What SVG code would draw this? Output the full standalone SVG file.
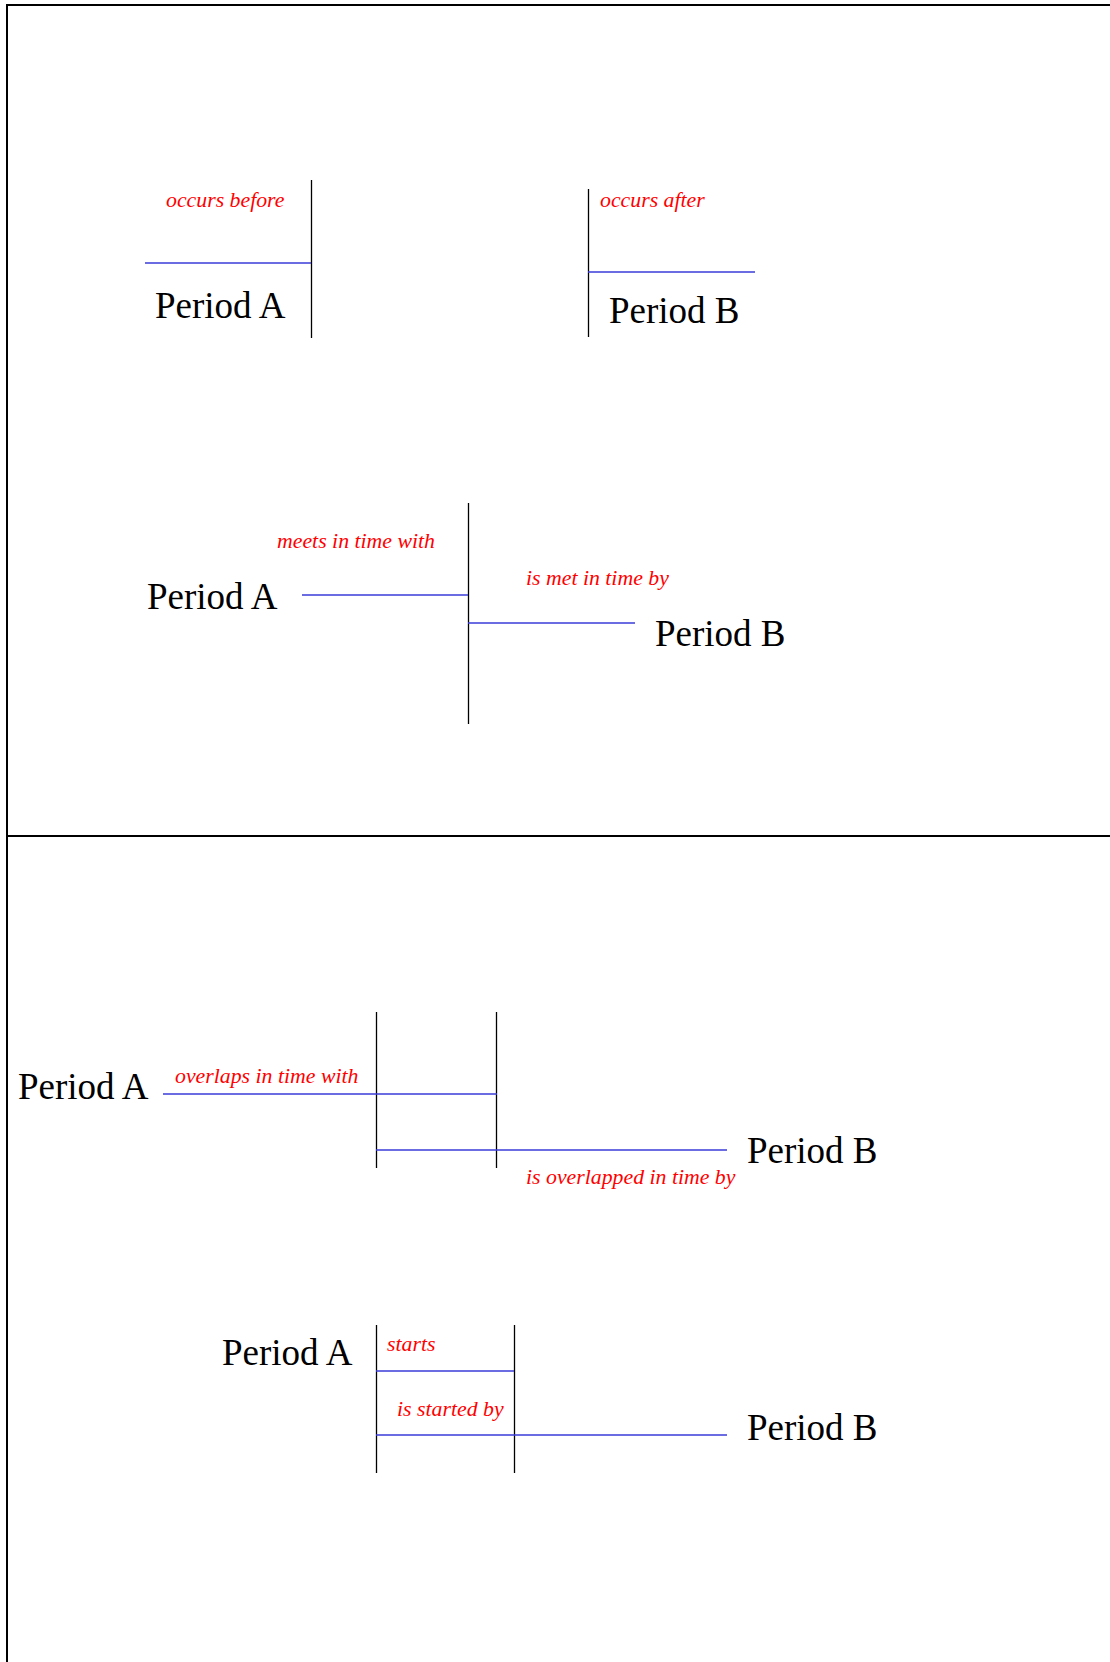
<svg xmlns="http://www.w3.org/2000/svg" width="1110" height="1662" viewBox="0 0 1110 1662">
<style>
.frame{stroke:#000;stroke-width:2;fill:none}
.bar{stroke:#000;stroke-width:1.3}
.span{stroke:#3a3ad8;stroke-width:1.3}
.period{font-family:"Liberation Serif","Times New Roman",serif;font-size:37px;fill:#000}
.rel{font-family:"Liberation Serif","Times New Roman",serif;font-size:21.8px;font-style:italic;fill:#ff0000}
</style>
<rect width="1110" height="1662" fill="#fff"/>
<g id="frame">
<line class="frame" x1="6" y1="5" x2="1110" y2="5"/>
<line class="frame" x1="7" y1="4" x2="7" y2="1662"/>
<line class="frame" x1="7" y1="836" x2="1110" y2="836"/>
</g>
<g id="connectors">
<line class="bar" x1="311.5" y1="180" x2="311.5" y2="338"/>
<line class="span" x1="145" y1="263" x2="311" y2="263"/>
<line class="bar" x1="588.5" y1="189" x2="588.5" y2="337"/>
<line class="span" x1="588" y1="272" x2="755" y2="272"/>
<line class="bar" x1="468.5" y1="503" x2="468.5" y2="724"/>
<line class="span" x1="302" y1="595" x2="468" y2="595"/>
<line class="span" x1="468" y1="623" x2="635" y2="623"/>
<line class="bar" x1="376.5" y1="1012" x2="376.5" y2="1168"/>
<line class="bar" x1="496.5" y1="1012" x2="496.5" y2="1168"/>
<line class="span" x1="163" y1="1094" x2="497" y2="1094"/>
<line class="span" x1="376" y1="1150" x2="727" y2="1150"/>
<line class="bar" x1="376.5" y1="1325" x2="376.5" y2="1473"/>
<line class="bar" x1="514.5" y1="1325" x2="514.5" y2="1473"/>
<line class="span" x1="376" y1="1371" x2="514" y2="1371"/>
<line class="span" x1="376" y1="1435" x2="727" y2="1435"/>
</g>
<g id="before">
<text class="rel" x="166" y="207">occurs before</text>
<text class="period" x="155" y="318">Period A</text>
</g>
<g id="after">
<text class="rel" x="600" y="207">occurs after</text>
<text class="period" x="609" y="323">Period B</text>
</g>
<g id="meets">
<text class="period" x="147" y="609">Period A</text>
<text class="rel" x="277" y="548">meets in time with</text>
</g>
<g id="met-by">
<text class="rel" x="526" y="585">is met in time by</text>
<text class="period" x="655" y="646">Period B</text>
</g>
<g id="overlaps">
<text class="period" x="18" y="1099">Period A</text>
<text class="rel" x="175" y="1083">overlaps in time with</text>
</g>
<g id="overlapped-by">
<text class="period" x="747" y="1163">Period B</text>
<text class="rel" x="526" y="1184">is overlapped in time by</text>
</g>
<g id="starts">
<text class="period" x="222" y="1365">Period A</text>
<text class="rel" x="387" y="1351">starts</text>
</g>
<g id="started-by">
<text class="rel" x="397" y="1416">is started by</text>
<text class="period" x="747" y="1440">Period B</text>
</g>
</svg>
